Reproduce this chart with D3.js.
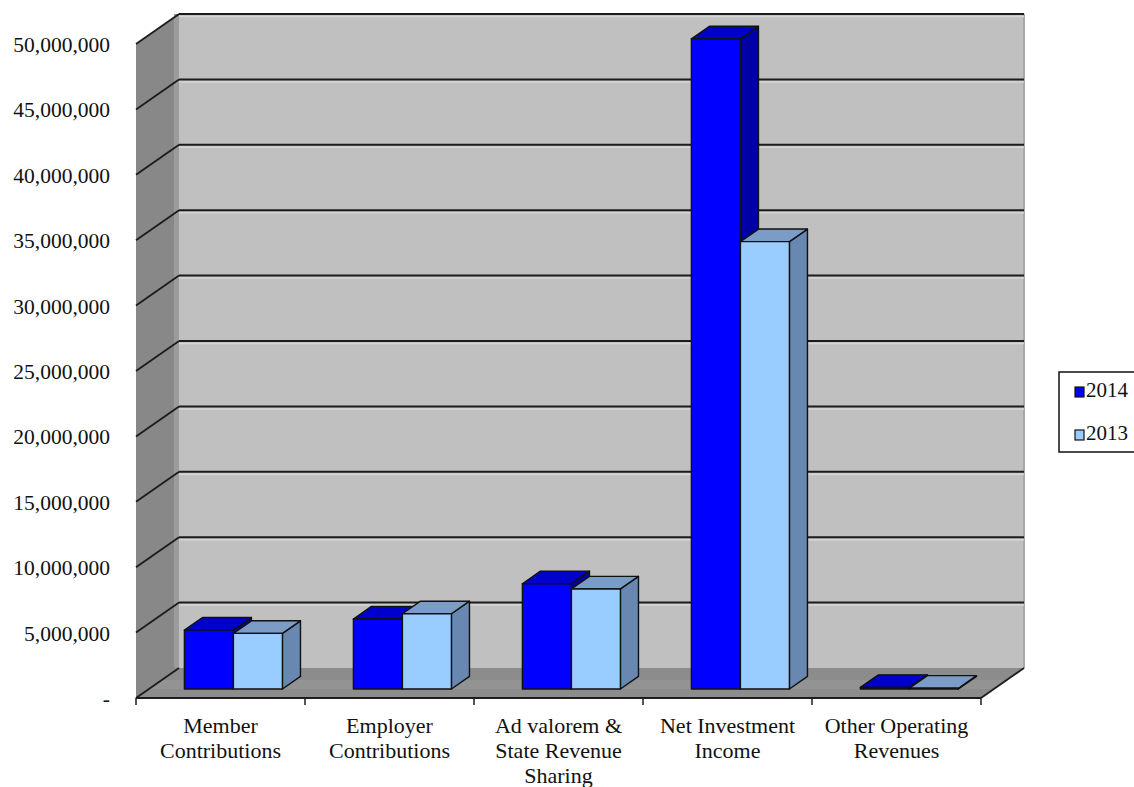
<!DOCTYPE html>
<html>
<head>
<meta charset="utf-8">
<script src="https://cdn.jsdelivr.net/npm/d3@7"></script>
<style>
  html, body { margin: 0; padding: 0; background: #ffffff; }
  svg { display: block; }
  text { font-family: "Liberation Serif", "Times New Roman", serif; fill: #111; }
</style>
</head>
<body>
<svg id="chart" width="1134" height="787"></svg>
<script>
// Operating revenue by source, two fiscal years
const categories = [
  ["Member", "Contributions"],
  ["Employer", "Contributions"],
  ["Ad valorem &", "State Revenue", "Sharing"],
  ["Net Investment", "Income"],
  ["Other Operating", "Revenues"]
];
const seriesNames = ["2014", "2013"];
const values2014 = [4500000, 5350000, 8050000, 49700000, 120000];
const values2013 = [4250000, 5750000, 7650000, 34200000, 60000];
const yTicks = [0, 5000000, 10000000, 15000000, 20000000, 25000000,
                30000000, 35000000, 40000000, 45000000, 50000000];

const colors = {
  "2014": { front: "#0000ff", top: "#0000cc", side: "#0000a6" },
  "2013": { front: "#99ccff", top: "#7b9cc6", side: "#6888b2" }
};

const svg = d3.select("#chart");

// Front plane of the 3-D box and the depth offset to the back wall
const plotLeft = 136, plotRight = 981, plotTop = 44, plotBottom = 698;
const DX = 43, DY = -30;
const depthFront = 0.3, depthBack = 0.72;   // bar position inside the depth

const catKeys = categories.map((c, i) => i);
const x = d3.scaleBand().domain(catKeys).range([plotLeft, plotRight])
  .paddingInner(0.42).paddingOuter(0.21);
const xEdge = d3.scaleBand().domain(catKeys).range([plotLeft, plotRight]).padding(0);
const xSeries = d3.scaleBand().domain(seriesNames).range([0, x.bandwidth()]);
const y = d3.scaleLinear().domain([0, 50000000]).range([plotBottom, plotTop]);

const shift = (z) => [z * DX, z * DY];
const poly = (pts) => "M" + pts.map(p => p.join(",")).join("L") + "Z";

const yMax = y(50000000);

// Left side wall
const wallG = svg.append("g");
wallG.append("path")
  .attr("d", poly([[plotLeft, yMax], [plotLeft + DX, yMax + DY],
                   [plotLeft + DX, plotBottom + DY], [plotLeft, plotBottom]]))
  .attr("fill", "#888888");
wallG.append("rect")
  .attr("x", plotLeft + DX - 5).attr("y", yMax + DY)
  .attr("width", 5).attr("height", plotBottom - yMax)
  .attr("fill", "#9c9c9c");

// Back wall
wallG.append("rect")
  .attr("x", plotLeft + DX).attr("y", yMax + DY)
  .attr("width", plotRight - plotLeft).attr("height", plotBottom - yMax)
  .attr("fill", "#c0c0c0");
wallG.append("line")
  .attr("x1", plotRight + DX).attr("x2", plotRight + DX)
  .attr("y1", yMax + DY).attr("y2", plotBottom + DY)
  .attr("stroke", "#a8a8a8").attr("stroke-width", 2);

// Floor
wallG.append("path")
  .attr("d", poly([[plotLeft, plotBottom], [plotRight, plotBottom],
                   [plotRight + DX, plotBottom + DY], [plotLeft + DX, plotBottom + DY]]))
  .attr("fill", "#8c8c8c");
wallG.append("path")
  .attr("d", poly([[plotLeft + 0.3 * DX, plotBottom + 0.3 * DY], [plotRight + 0.3 * DX, plotBottom + 0.3 * DY],
                   [plotRight + 0.6 * DX, plotBottom + 0.6 * DY], [plotLeft + 0.6 * DX, plotBottom + 0.6 * DY]]))
  .attr("fill", "#939393");

// Gridlines on the back and side walls
const gridG = svg.append("g");
yTicks.forEach(v => {
  const yy = y(v);
  if (v > 0) {
    gridG.append("line")
      .attr("x1", plotLeft + DX).attr("x2", plotRight + DX)
      .attr("y1", yy + DY + 2.5).attr("y2", yy + DY + 2.5)
      .attr("stroke", "#d6d6d6").attr("stroke-width", 1.5);
    gridG.append("line")
      .attr("x1", plotLeft + DX).attr("x2", plotRight + DX)
      .attr("y1", yy + DY).attr("y2", yy + DY)
      .attr("stroke", "#1c1c1c").attr("stroke-width", 2);
  }
  gridG.append("line")
    .attr("x1", plotLeft).attr("x2", plotLeft + DX)
    .attr("y1", yy).attr("y2", yy + DY)
    .attr("stroke", "#1c1c1c").attr("stroke-width", 1.8);
});
// Floor outline
gridG.append("line")
  .attr("x1", plotRight).attr("x2", plotRight + DX)
  .attr("y1", plotBottom).attr("y2", plotBottom + DY)
  .attr("stroke", "#1c1c1c").attr("stroke-width", 1.8);
gridG.append("line")
  .attr("x1", plotLeft).attr("x2", plotRight)
  .attr("y1", plotBottom).attr("y2", plotBottom)
  .attr("stroke", "#1c1c1c").attr("stroke-width", 2);

// Category tick marks along the front edge
catKeys.concat([catKeys.length]).forEach(i => {
  const xx = i < catKeys.length ? xEdge(i) : plotRight;
  gridG.append("line")
    .attr("x1", xx).attr("x2", xx)
    .attr("y1", plotBottom).attr("y2", plotBottom + 7)
    .attr("stroke", "#1c1c1c").attr("stroke-width", 1.5);
});

// 3-D bars
const barG = svg.append("g");
const [fx, fy] = shift(depthFront);
const [bx, by] = shift(depthBack);
const ddx = bx - fx, ddy = by - fy;
categories.forEach((c, i) => {
  seriesNames.forEach(s => {
    const v = s === "2014" ? values2014[i] : values2013[i];
    const col = colors[s];
    const x0 = x(i) + xSeries(s) + fx;
    const x1 = x0 + xSeries.bandwidth();
    const yb = y(0) + fy;
    const yt = y(v) + fy;
    const g = barG.append("g")
      .attr("stroke", "#111").attr("stroke-width", 1.4).attr("stroke-linejoin", "round");
    // right side face
    g.append("path")
      .attr("d", poly([[x1, yt], [x1 + ddx, yt + ddy], [x1 + ddx, yb + ddy], [x1, yb]]))
      .attr("fill", col.side);
    // top face
    g.append("path")
      .attr("d", poly([[x0, yt], [x0 + ddx, yt + ddy], [x1 + ddx, yt + ddy], [x1, yt]]))
      .attr("fill", col.top);
    // front face
    g.append("rect")
      .attr("x", x0).attr("y", yt)
      .attr("width", x1 - x0).attr("height", Math.max(0, yb - yt))
      .attr("fill", col.front);
  });
});

// Value axis labels
const fmt = d3.format(",");
const axisG = svg.append("g");
yTicks.forEach(v => {
  axisG.append("text")
    .attr("x", 110).attr("y", y(v) + 8)
    .attr("text-anchor", "end")
    .style("font-size", "21.5px")
    .text(v === 0 ? "-" : fmt(v));
});

// Category labels
categories.forEach((lines, i) => {
  const cx = xEdge(i) + xEdge.bandwidth() / 2;
  const t = axisG.append("text")
    .attr("text-anchor", "middle")
    .style("font-size", "22px");
  lines.forEach((ln, k) => {
    t.append("tspan").attr("x", cx).attr("y", 733 + k * 25).text(ln);
  });
});

// Legend
const legG = svg.append("g");
legG.append("rect")
  .attr("x", 1059).attr("y", 372).attr("width", 80).attr("height", 80)
  .attr("fill", "#ffffff").attr("stroke", "#111").attr("stroke-width", 1.5);
seriesNames.forEach((s, k) => {
  const yy = 392 + k * 43;
  legG.append("rect")
    .attr("x", 1075).attr("y", yy - 5).attr("width", 9).attr("height", 10)
    .attr("fill", colors[s].front).attr("stroke", "#111").attr("stroke-width", 1.2);
  legG.append("text")
    .attr("x", 1086).attr("y", yy + 5)
    .style("font-size", "21px")
    .text(s);
});
</script>
</body>
</html>
